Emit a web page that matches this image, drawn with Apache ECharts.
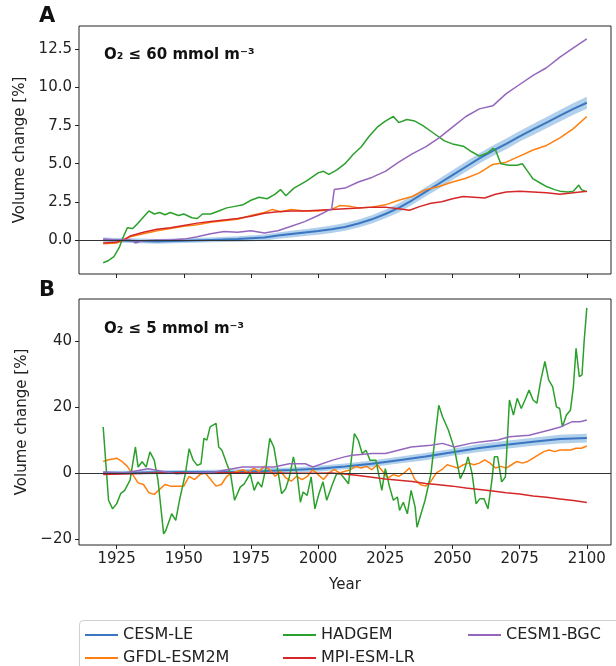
<!DOCTYPE html>
<html>
<head>
<meta charset="utf-8">
<script src="https://cdn.jsdelivr.net/npm/echarts@6.0.0/dist/echarts.min.js"></script>
<style>
html,body{margin:0;padding:0;background:#fff}
#chart{width:616px;height:666px}
</style>
</head>
<body>
<div id="chart"></div>
<script>
// tick labels
var yearTicks = [1925, 1950, 1975, 2000, 2025, 2050, 2075, 2100];
var ticksA = [0, 2.5, 5, 7.5, 10, 12.5];
var ticksB = [-20, 0, 20, 40];

// panel A : O2 <= 60 mmol m-3   ([year, mean, spread] for the ensemble)
var cesmLeA = [[1920,0.0,0.15],[1930,-0.05,0.15],[1940,-0.1,0.15],[1950,-0.05,0.15],[1960,0.0,0.15],[1970,0.05,0.18],
  [1980,0.15,0.2],[1985,0.28,0.2],[1990,0.38,0.22],[1995,0.48,0.22],[2000,0.58,0.24],[2005,0.7,0.25],[2010,0.85,0.25],
  [2015,1.08,0.26],[2020,1.35,0.27],[2025,1.7,0.28],[2030,2.1,0.3],[2035,2.6,0.3],[2040,3.15,0.3],[2045,3.7,0.32],
  [2050,4.25,0.32],[2055,4.8,0.33],[2060,5.35,0.33],[2065,5.85,0.34],[2070,6.3,0.35],[2075,6.8,0.35],[2080,7.25,0.36],
  [2085,7.7,0.37],[2090,8.15,0.38],[2095,8.6,0.38],[2100,9.0,0.4]];
var gfdlA = [[1920,-0.25],[1925,-0.2],[1928,0.0],[1930,0.2],[1935,0.4],[1940,0.6],[1945,0.75],[1950,0.9],[1955,1.0],
  [1960,1.15],[1965,1.25],[1970,1.35],[1975,1.6],[1980,1.8],[1983,2.0],[1986,1.85],[1990,2.0],[1995,1.9],[2000,1.9],
  [2005,2.0],[2008,2.25],[2012,2.2],[2015,2.1],[2020,2.15],[2025,2.3],[2030,2.6],[2035,2.85],[2040,3.3],[2045,3.5],
  [2050,3.8],[2055,4.05],[2060,4.4],[2065,4.95],[2070,5.1],[2075,5.5],[2080,5.9],[2085,6.2],[2090,6.7],[2095,7.3],[2100,8.1]];
var hadgemA = [[1920,-1.5],[1922,-1.35],[1924,-1.1],[1926,-0.5],[1927,0.0],[1929,0.8],[1931,0.75],[1933,1.1],[1935,1.5],
  [1937,1.9],[1939,1.7],[1941,1.8],[1943,1.65],[1945,1.8],[1948,1.6],[1950,1.7],[1953,1.45],[1955,1.4],[1957,1.7],
  [1960,1.7],[1963,1.9],[1966,2.1],[1969,2.2],[1972,2.3],[1975,2.6],[1978,2.8],[1981,2.7],[1984,3.0],[1986,3.3],
  [1988,2.9],[1991,3.4],[1993,3.6],[1996,3.9],[1998,4.15],[2000,4.4],[2002,4.5],[2004,4.3],[2007,4.6],[2010,5.0],
  [2013,5.6],[2016,6.1],[2019,6.8],[2022,7.4],[2025,7.8],[2028,8.1],[2030,7.7],[2033,7.9],[2036,7.8],[2039,7.5],
  [2043,7.0],[2047,6.5],[2050,6.3],[2054,6.15],[2057,5.8],[2060,5.5],[2063,5.7],[2065,6.0],[2066,5.9],[2068,5.0],
  [2071,4.9],[2074,4.9],[2076,5.0],[2078,4.5],[2080,4.0],[2083,3.7],[2085,3.5],[2088,3.3],[2090,3.2],[2093,3.15],
  [2095,3.2],[2097,3.6],[2098,3.3],[2100,3.15]];
var mpiA = [[1920,-0.2],[1925,-0.15],[1928,0.05],[1930,0.25],[1935,0.5],[1940,0.7],[1945,0.8],[1950,0.95],[1955,1.1],
  [1960,1.2],[1965,1.3],[1970,1.4],[1975,1.55],[1980,1.75],[1985,1.85],[1990,1.9],[1995,1.9],[2000,1.95],[2005,2.0],
  [2010,2.05],[2015,2.1],[2020,2.15],[2025,2.15],[2030,2.05],[2034,1.95],[2038,2.2],[2042,2.4],[2046,2.5],[2050,2.7],
  [2054,2.85],[2058,2.8],[2062,2.75],[2066,3.0],[2070,3.15],[2075,3.2],[2080,3.15],[2085,3.1],[2090,3.0],[2095,3.1],[2100,3.2]];
var bgcA = [[1920,0.05],[1925,0.0],[1930,0.0],[1932,-0.2],[1935,-0.05],[1940,0.0],[1945,0.0],[1950,0.05],[1955,0.2],
  [1960,0.4],[1965,0.55],[1970,0.5],[1975,0.6],[1980,0.45],[1985,0.6],[1990,0.9],[1995,1.2],[2000,1.6],[2004,1.95],
  [2005,2.0],[2006,3.3],[2010,3.4],[2015,3.8],[2020,4.1],[2025,4.5],[2030,5.1],[2035,5.65],[2040,6.1],[2045,6.7],
  [2050,7.4],[2055,8.1],[2060,8.6],[2065,8.8],[2070,9.6],[2075,10.2],[2080,10.8],[2085,11.3],[2090,12.0],[2095,12.6],[2100,13.2]];

// panel B : O2 <= 5 mmol m-3
var cesmLeB = [[1920,0.0,0.6],[1930,0.1,0.6],[1940,0.2,0.6],[1950,0.3,0.6],[1960,0.3,0.7],[1970,0.4,0.7],[1980,0.6,0.8],
  [1990,0.9,0.8],[2000,1.3,0.9],[2010,2.0,0.9],[2020,2.8,1.0],[2030,3.9,1.0],[2040,5.0,1.1],[2050,6.3,1.1],[2060,7.6,1.2],
  [2070,8.6,1.2],[2080,9.5,1.2],[2090,10.3,1.3],[2100,10.6,1.3]];
var gfdlB = [[1920,3.5],[1922,4.0],[1925,4.5],[1927,3.5],[1929,2.0],[1931,-0.5],[1933,-3],[1935,-3.5],[1937,-6],[1939,-6.5],
  [1941,-5],[1943,-3.5],[1945,-4],[1947,-4],[1950,-4],[1952,-1],[1954,-2],[1956,-0.5],[1958,0],[1960,-2],[1962,-4],
  [1964,-3.5],[1966,-1],[1968,0],[1970,0.5],[1972,1.0],[1974,0],[1976,1.5],[1978,0.5],[1980,2.0],[1982,1.0],[1984,-1.0],
  [1986,0.5],[1988,-1.5],[1990,-2.5],[1992,-1],[1994,-2],[1996,-1],[1998,1.0],[2000,-0.5],[2002,-2],[2004,0],[2006,1.0],
  [2008,0],[2010,0.5],[2012,1.0],[2014,2.0],[2016,1.5],[2018,2.0],[2020,1.0],[2022,2.5],[2024,0.5],[2026,-1.5],[2028,-0.5],
  [2030,-1.0],[2032,0.0],[2034,1.5],[2036,-2.0],[2038,-3.5],[2040,-4.0],[2042,-2.5],[2044,0.0],[2046,1.0],[2048,2.5],
  [2050,2.0],[2052,1.5],[2054,2.5],[2056,3.0],[2058,2.5],[2060,3.0],[2062,4.0],[2064,3.0],[2066,1.5],[2068,2.0],[2070,1.5],
  [2072,2.5],[2074,3.5],[2076,3.0],[2078,3.5],[2080,4.5],[2082,5.5],[2084,6.5],[2086,7.0],[2088,6.5],[2090,7.0],[2092,7.0],
  [2094,7.0],[2096,7.5],[2098,7.5],[2100,8.2]];
var hadgemB = [[1920,14],[1922,-8.3],[1923.5,-10.9],[1925,-9.4],[1926.5,-6.3],[1928,-5.3],[1930,-2.2],[1932,7.9],[1933,1.8],
  [1934.5,3.4],[1936,1.8],[1937.4,6.4],[1939,3.9],[1940.4,-2.2],[1942.5,-18.5],[1943.3,-17.5],[1945.5,-12.4],[1947,-14.4],
  [1948.4,-8.3],[1950.6,-0.2],[1952,7.4],[1953.5,3.9],[1955,2.3],[1956.4,2.8],[1957.5,10.5],[1958.6,10.0],[1959.8,14.0],
  [1962,15.1],[1963,7.9],[1964.2,6.9],[1966,2.8],[1967.4,-0.2],[1968.9,-8.3],[1971,-4.3],[1972.5,-3.3],[1974.7,-0.2],
  [1976.2,-5.3],[1977.6,-2.7],[1979,-4.3],[1980.6,1.8],[1982,10.5],[1983.5,7.9],[1985,0.8],[1986.4,-6.3],[1987.9,-4.8],
  [1989.3,-1.2],[1990.8,4.9],[1992.3,-1.2],[1993.4,-8.9],[1994.4,-5.8],[1995.9,-6.8],[1997.4,-1.2],[1998.8,-10.9],
  [2000.3,-6.3],[2001.8,-2.7],[2003.2,-8.3],[2005.4,-3.3],[2006.9,-0.2],[2008.3,-0.2],[2009.8,-1.7],[2011.3,-3.3],
  [2013.5,12.0],[2014.9,10.0],[2016.4,5.9],[2017.8,6.9],[2019.3,3.9],[2021.5,3.9],[2023.7,-5.3],[2025,1.3],[2026.6,-4.3],
  [2028,-8.3],[2029.5,-7.3],[2030.3,-11.4],[2031.7,-8.9],[2033.2,-12.4],[2034.6,-5.3],[2036.1,-10.4],[2036.8,-16.5],
  [2038.3,-12.4],[2039.8,-8.3],[2042,-0.2],[2043.4,10.0],[2044.9,20.6],[2046.3,17.1],[2048.5,13.0],[2050.7,7.4],
  [2052.9,-1.7],[2054.4,0.8],[2055.8,4.9],[2057.3,-0.2],[2058.8,-9.4],[2060.2,-7.8],[2061.7,-7.8],[2063.2,-10.9],
  [2064.6,-2.7],[2065.6,4.9],[2066.8,4.9],[2068.3,-2.7],[2069.7,-1.2],[2071.2,22.2],[2072.7,17.6],[2074.1,22.7],
  [2075.6,19.6],[2077,22.2],[2078.5,25.2],[2080,22.2],[2081.4,21.2],[2082.9,28.3],[2084.4,33.9],[2085.8,28.3],
  [2087.3,26.2],[2088.7,20.1],[2089.9,19.6],[2090.9,14.0],[2092.4,17.6],[2093.9,19.1],[2095,26.2],[2096,37.9],
  [2097.2,29.3],[2098.2,29.8],[2099,40],[2100,50.2]];
var mpiB = [[1920,-0.5],[1930,-0.2],[1940,0.0],[1950,0.1],[1960,0.0],[1970,0.1],[1980,0.0],[1990,-0.1],[2000,-0.1],
  [2005,0.0],[2010,-0.3],[2015,-0.8],[2020,-1.3],[2025,-1.8],[2030,-2.2],[2035,-2.6],[2040,-3.2],[2045,-3.6],[2050,-4.0],
  [2055,-4.6],[2060,-5.0],[2065,-5.5],[2070,-6.0],[2075,-6.4],[2080,-7.0],[2085,-7.4],[2090,-7.9],[2095,-8.4],[2100,-9.0]];
var bgcB = [[1920,0.3],[1928,0.0],[1936.7,1.3],[1947,-0.2],[1961.5,0.3],[1971.8,1.8],[1983.5,1.8],[1989.3,2.8],
  [1995.2,2.8],[1998,1.8],[2005.4,3.9],[2009.8,4.9],[2012.7,5.4],[2020,5.9],[2025,5.9],[2027.3,6.4],[2034.6,7.9],
  [2042,8.4],[2046.3,9.0],[2050.7,7.9],[2056.6,9.0],[2061,9.5],[2066.8,10.0],[2071.2,11.0],[2078.5,11.5],[2085.8,13.0],
  [2090.2,14.0],[2094.6,15.6],[2097.5,15.6],[2100,16.1]];

var colors = {le:'#3b76c2', band:'#a9cbea', gfdl:'#ff7f0e', had:'#2ca02c', mpi:'#d62728', bgc:'#9467bd'};
var font = 'DejaVu Sans';

function lineSeries(name, data, color, idx, width){
  return {name:name, type:'line', data:data, xAxisIndex:idx, yAxisIndex:idx, showSymbol:false, symbol:'none',
    itemStyle:{color:color}, lineStyle:{color:color, width:width||1.5}, silent:true};
}
// ensemble spread drawn as one polygon through the axis scales
function bandSeries(rows, idx){
  return {name:'band'+idx, type:'custom', xAxisIndex:idx, yAxisIndex:idx, data:rows, silent:true,
    encode:{x:0, y:1},
    renderItem:function(params, api){
      if (params.dataIndex !== 0) return null;
      var up = [], lo = [];
      rows.forEach(function(r){
        up.push(api.coord([r[0], r[1] + r[2]]));
        lo.push(api.coord([r[0], r[1] - r[2]]));
      });
      return {type:'polygon', shape:{points:up.concat(lo.reverse())}, style:{fill:colors.band, opacity:0.9}};
    }};
}
function panel(idx, le, gfdl, had, mpi, bgc){
  var s = [bandSeries(le, idx)];
  s.push(lineSeries('CESM-LE', le.map(function(r){ return [r[0], r[1]]; }), colors.le, idx, 2));
  s.push(lineSeries('GFDL-ESM2M', gfdl, colors.gfdl, idx));
  s.push(lineSeries('HADGEM', had, colors.had, idx));
  s.push(lineSeries('MPI-ESM-LR', mpi, colors.mpi, idx));
  var last = lineSeries('CESM1-BGC', bgc, colors.bgc, idx);
  last.markLine = {silent:true, symbol:'none', label:{show:false}, animation:false,
    lineStyle:{color:'#333', width:1, type:'solid'}, data:[{yAxis:0}]};
  s.push(last);
  return s;
}

var axisText = {fontFamily:font, fontSize:15, color:'#222'};
function xAxis(idx, labels){
  return {type:'value', gridIndex:idx, min:1911, max:2109, splitLine:{show:false},
    axisLine:{show:false, onZero:false},
    axisTick:{show:true, customValues:yearTicks, length:4, lineStyle:{color:'#222'}},
    axisLabel:Object.assign({show:labels, customValues:yearTicks, margin:7,
      formatter:function(v){ return String(v); }}, axisText),
    name:labels ? 'Year' : '', nameLocation:'middle', nameGap:33, nameTextStyle:axisText};
}
function yAxis(idx, min, max, ticks, fmt){
  return {type:'value', gridIndex:idx, min:min, max:max, splitLine:{show:false},
    axisLine:{show:false, onZero:false},
    axisTick:{show:true, customValues:ticks, length:4, lineStyle:{color:'#222'}},
    axisLabel:Object.assign({customValues:ticks, margin:7, formatter:fmt}, axisText),
    name:'Volume change [%]', nameLocation:'middle', nameGap:47, nameRotate:90, nameTextStyle:axisText};
}

var chart = echarts.init(document.getElementById('chart'), null, {renderer:'canvas'});
var legendText = {fontFamily:font, fontSize:16, color:'#222'};
var option = {
  animation:false,
  backgroundColor:'#fff',
  grid:[
    {left:79, top:26, width:532, height:248, show:true, borderColor:'#222', borderWidth:1},
    {left:79, top:299, width:532, height:246, show:true, borderColor:'#222', borderWidth:1}
  ],
  xAxis:[xAxis(0, false), xAxis(1, true)],
  yAxis:[
    yAxis(0, -2.24, 14.04, ticksA, function(v){ return v.toFixed(1); }),
    yAxis(1, -21.9, 52.9, ticksB, function(v){ return v < 0 ? '\u2212' + Math.abs(v) : String(v); })
  ],
  title:[
    {text:'A', left:39, top:6, padding:0, textStyle:{fontFamily:font, fontSize:21, fontWeight:'bold', color:'#111'}},
    {text:'B', left:39, top:280, padding:0, textStyle:{fontFamily:font, fontSize:21, fontWeight:'bold', color:'#111'}},
    {text:'O\u2082 \u2264 60 mmol m\u207b\u00b3', left:104, top:48, padding:0,
      textStyle:{fontFamily:font, fontSize:15, fontWeight:'bold', color:'#111'}},
    {text:'O\u2082 \u2264 5 mmol m\u207b\u00b3', left:104, top:322, padding:0,
      textStyle:{fontFamily:font, fontSize:15, fontWeight:'bold', color:'#111'}}
  ],
  graphic:[{type:'rect', left:79, top:620, z:0,
    shape:{width:560, height:70, r:4}, style:{fill:'#fff', stroke:'#d0d0d0', lineWidth:1}}],
  legend:[
    {data:['CESM-LE','GFDL-ESM2M'], orient:'vertical', left:85, top:627, icon:'rect', itemWidth:33, itemHeight:2,
      itemGap:7, textStyle:legendText, selectedMode:false, padding:0},
    {data:['HADGEM','MPI-ESM-LR'], orient:'vertical', left:283, top:627, icon:'rect', itemWidth:33, itemHeight:2,
      itemGap:7, textStyle:legendText, selectedMode:false, padding:0},
    {data:['CESM1-BGC'], orient:'vertical', left:468, top:627, icon:'rect', itemWidth:33, itemHeight:2,
      itemGap:7, textStyle:legendText, selectedMode:false, padding:0}
  ],
  series:panel(0, cesmLeA, gfdlA, hadgemA, mpiA, bgcA).concat(panel(1, cesmLeB, gfdlB, hadgemB, mpiB, bgcB))
};
chart.setOption(option);
</script>
</body>
</html>
